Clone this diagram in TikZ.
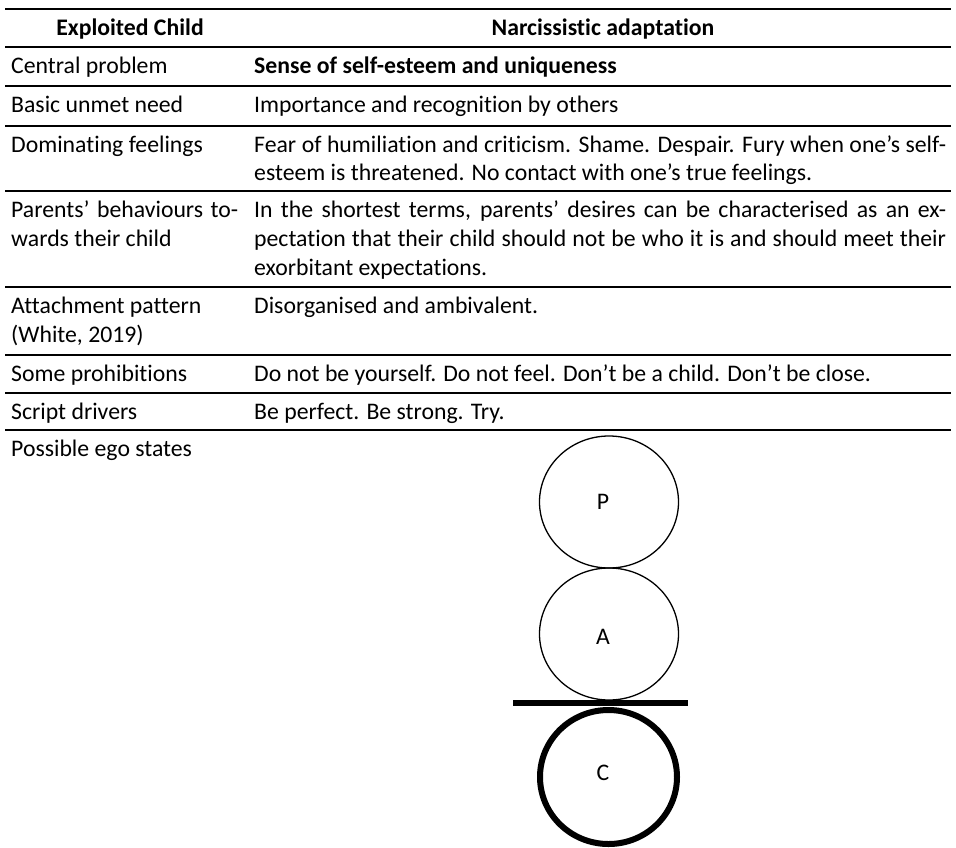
\documentclass[tikz,border=0pt]{standalone}
\usepackage{fontspec}
\setmainfont{Carlito}[Ligatures=NoCommon]
\begin{document}
\begin{tikzpicture}[x=1pt,y=-1pt,
  rule/.style={line width=2pt},
  cell/.style={anchor=base west, inner sep=0pt, font=\fontsize{23.75}{29}\selectfont},
  head/.style={anchor=base, inner sep=0pt, font=\fontsize{23.75}{29}\selectfont\bfseries},
  egotext/.style={anchor=center, inner sep=0pt, font=\fontsize{23.75}{29}\selectfont},
  thin/.style={line width=1.3pt},
  thick/.style={line width=6pt}]
\useasboundingbox (0,0) rectangle (956,847);
\newcommand{\jr}[1]{\makebox[692pt][s]{#1}}
\newcommand{\jlft}[1]{\makebox[227pt][s]{#1}}
% rules
\foreach \yy in {9,47,86,126,191,287,355,393,430}
  \draw[rule] (5,\yy) -- (951,\yy);
% header
\node[head] (h1) at (130,35) {Exploited Child};
\node[head] (h2) at (603,35) {Narcissistic adaptation};
% rows
\node[cell] (l1) at (11,73) {Central problem};
\node[cell] (r1) at (254,73) {\bfseries Sense of self-esteem and uniqueness};
\node[cell] (l2) at (11,112) {Basic unmet need};
\node[cell] (r2) at (254,112) {Importance and recognition by others};
\node[cell] (l3) at (11,152) {Dominating feelings};
\node[cell] (r3a) at (254,152) {\jr{Fear of humiliation and criticism. Shame. Despair. Fury when one’s self-}};
\node[cell] (r3b) at (254,180) {esteem is threatened. No contact with one’s true feelings.};
\node[cell] (l4a) at (11,217) {\jlft{Parents’ behaviours to-}};
\node[cell] (l4b) at (11,246) {wards their child};
\node[cell] (r4a) at (254,217) {\jr{In the shortest terms, parents’ desires can be characterised as an ex-}};
\node[cell] (r4b) at (254,246) {\jr{pectation that their child should not be who it is and should meet their}};
\node[cell] (r4c) at (254,275) {exorbitant expectations.};
\node[cell] (l5a) at (11,313) {Attachment pattern};
\node[cell] (l5b) at (11,342) {(White, 2019)};
\node[cell] (r5) at (254,313) {Disorganised and ambivalent.};
\node[cell] (l6) at (11,381) {Some prohibitions};
\node[cell] (r6) at (254,381) {Do not be yourself. Do not feel. Don’t be a child. Don’t be close.};
\node[cell] (l7) at (11,419) {Script drivers};
\node[cell] (r7) at (254,419) {Be perfect. Be strong. Try.};
\node[cell] (l8) at (11,456) {Possible ego states};
% ego states
\draw[thin] (609,502) ellipse [x radius=69.5pt, y radius=66pt];
\draw[thin] (609,634) ellipse [x radius=69.5pt, y radius=66pt];
\draw[line width=6.5pt] (513,703) -- (688,703);
\draw[thick] (608.5,777) ellipse [x radius=68.5pt, y radius=67pt];
\node[egotext] (P) at (603,502) {P};
\node[egotext] (A) at (603,637) {A};
\node[egotext] (C) at (603,773) {C};
\end{tikzpicture}
\end{document}
